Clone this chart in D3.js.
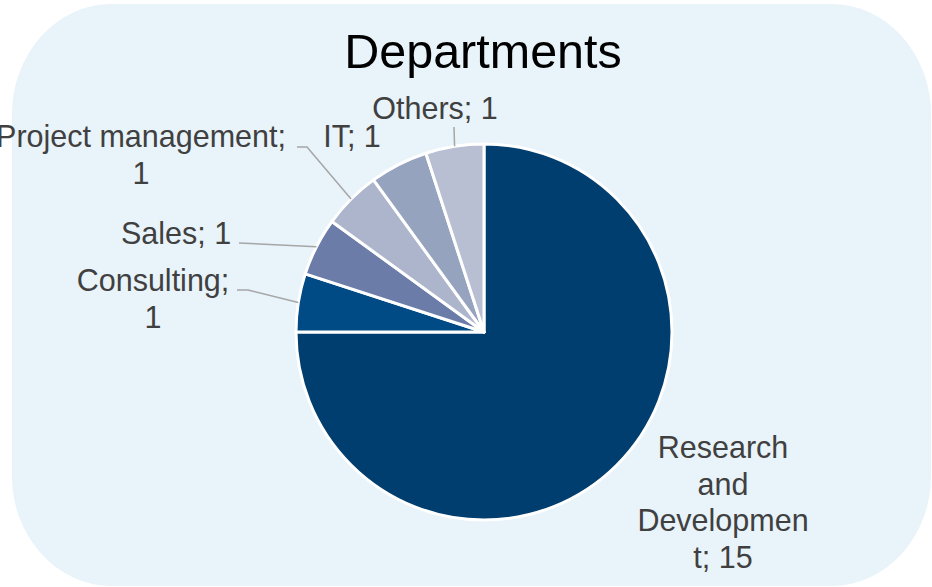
<!DOCTYPE html>
<html>
<head>
<meta charset="utf-8">
<script src="https://cdn.jsdelivr.net/npm/d3@7"></script>
<style>
  body { margin: 0; background: #fff; }
  text { font-family: 'Liberation Sans', Arial, sans-serif; }
</style>
</head>
<body>
<svg width="932" height="587"></svg>
<script>
const departments = ['Research and Development', 'Consulting', 'Sales', 'Project management', 'IT', 'Others'];
const counts = [15, 1, 1, 1, 1, 1];
const sliceColors = ['#003E6F', '#004B86', '#6A7CA7', '#ADB5CC', '#95A3BF', '#B9BFD2'];

// label layout: wrapped lines, anchor point, and optional leader bend
const labelLayout = [
  { lines: ['Research', 'and', 'Developmen', 't; 15'], x: 723, y: 458, leader: null },
  { lines: ['Consulting;', '1'], x: 153, y: 291, leader: [[237, 290], [248, 290]] },
  { lines: ['Sales; 1'], x: 176, y: 244, leader: [[239, 243]] },
  { lines: ['Project management;', '1'], x: 141, y: 147, leader: [[297, 147], [307, 147]] },
  { lines: ['IT; 1'], x: 352, y: 147, leader: null },
  { lines: ['Others; 1'], x: 435, y: 119, leader: [[454, 127]] }
];

const svg = d3.select('svg');
const width = +svg.attr('width');
const cx = 484, cy = 332, radius = 188;
const lineHeight = 36.7;

svg.append('rect')
  .attr('x', 12).attr('y', 4)
  .attr('width', 919).attr('height', 582)
  .attr('rx', 100).attr('ry', 110)
  .attr('fill', '#E8F3FA');

svg.append('text')
  .attr('x', width / 2 + 17)
  .attr('y', 68)
  .attr('text-anchor', 'middle')
  .attr('font-size', 48.5)
  .attr('fill', '#000')
  .text('Departments');

const rows = departments.map((name, i) => ({ name, value: counts[i], i }));
const pie = d3.pie().sort(null).value(d => d.value);
const arcs = pie(rows);
const arc = d3.arc().innerRadius(0).outerRadius(radius);

const pieGroup = svg.append('g')
  .attr('transform', `translate(${cx}, ${cy})`);

pieGroup.selectAll('path.slice')
  .data(arcs)
  .enter()
  .append('path')
    .attr('class', 'slice')
    .attr('d', arc)
    .attr('fill', d => sliceColors[d.data.i])
    .attr('stroke', '#fff')
    .attr('stroke-width', 3)
    .attr('stroke-linejoin', 'round');

// leader lines from label to slice edge
arcs.forEach(d => {
  const layout = labelLayout[d.data.i];
  if (!layout.leader) return;
  const mid = (d.startAngle + d.endAngle) / 2;
  const edge = [cx + radius * Math.sin(mid), cy - radius * Math.cos(mid)];
  const pts = layout.leader.concat([edge]);
  svg.append('path')
    .attr('d', d3.line()(pts))
    .attr('fill', 'none')
    .attr('stroke', '#A6A6A6')
    .attr('stroke-width', 1.5);
});

labelLayout.forEach(layout => {
  const t = svg.append('text')
    .attr('text-anchor', 'middle')
    .attr('font-size', 30.5)
    .attr('fill', '#404040');
  layout.lines.forEach((line, k) => {
    t.append('tspan')
      .attr('x', layout.x)
      .attr('y', layout.y + k * lineHeight)
      .text(line);
  });
});
</script>
</body>
</html>
